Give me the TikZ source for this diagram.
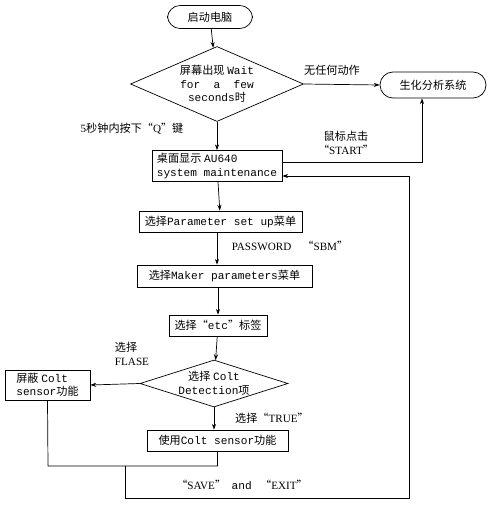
\documentclass[tikz,border=0pt]{standalone}
\usepackage{fontspec}
\setmainfont{Liberation Serif}
\setmonofont{Liberation Mono}
\newfontfamily\cjk{Noto Sans CJK SC}
\usepackage{tikz}
\usetikzlibrary{arrows.meta,shapes.geometric}
\newcommand{\zh}[1]{{\cjk #1}}

\begin{document}
\begin{tikzpicture}[x=0.03cm,y=-0.03cm,
  font=\fontsize{9.5}{11.5}\selectfont,
  >={Stealth[length=5pt,width=3.5pt]},
  every path/.style={line width=0.6pt},
  flow/.style={draw,inner sep=1pt},
  term/.style={flow,rounded corners=3.8mm},
  proc/.style={flow,rectangle,align=left},
  dec/.style={flow,diamond,inner sep=0pt,align=center},
  lbl/.style={align=left,inner sep=1pt}]
  \useasboundingbox (0,0) rectangle (496,506);
  % nodes
  \node[term,minimum width=2.55cm,minimum height=0.69cm] (start) at (210,17) {\zh{启动电脑}};
  \node[dec,aspect=2.3,minimum width=5.19cm,minimum height=2.25cm] (wait) at (217,84)
    {\zh{屏幕出现} \texttt{Wait}\\\texttt{for~~a~~few}\\\texttt{seconds}\zh{时}};
  \node[term,minimum width=3.18cm,minimum height=0.78cm,rounded corners=3.9mm] (sys) at (433,85) {\zh{生化分析系统}};
  \node[proc,minimum width=3.9cm,minimum height=0.93cm] (desk) at (217,166)
    {\zh{桌面显示} \texttt{AU640}\\\texttt{system maintenance}};
  \node[proc,minimum width=4.89cm,minimum height=0.63cm] (param) at (220.5,221.5)
    {\zh{选择}\texttt{Parameter set up}\zh{菜单}};
  \node[proc,minimum width=5.25cm,minimum height=0.66cm] (maker) at (224.5,276)
    {\zh{选择}\texttt{Maker parameters}\zh{菜单}};
  \node[proc,minimum width=2.94cm,minimum height=0.63cm] (etc) at (218,325.5)
    {\zh{选择“}\texttt{etc}\zh{”标签}};
  \node[dec,aspect=3.1,minimum width=4.44cm,minimum height=1.41cm] (colt) at (214,383.5)
    {\zh{选择} \texttt{Colt}\\\texttt{Detection}\zh{项}};
  \node[proc,minimum width=2.55cm,minimum height=0.9cm] (mask) at (47.5,385)
    {\zh{屏蔽} \texttt{Colt}\\\texttt{sensor}\zh{功能}};
  \node[proc,minimum width=4.23cm,minimum height=0.63cm] (use) at (217.5,440.5)
    {\zh{使用}\texttt{Colt sensor}\zh{功能}};
  % labels
  \node[lbl] (lnone) at (332,70) {\zh{无任何动作}};
  \node[lbl] (lq) at (132,129) {5\zh{秒钟内按下“}Q\zh{”键}};
  \node[lbl,align=center] (lstart) at (346,143) {\zh{鼠标点击}\\\zh{“}START\zh{”}};
  \node[lbl] (lpw) at (290,246) {PASSWORD\quad\zh{“}SBM\zh{”}};
  \node[lbl] (lfalse) at (132,354) {\zh{选择}\\FLASE};
  \node[lbl] (ltrue) at (272,418) {\zh{选择“}TRUE\zh{”}};
  \node[lbl] (lsave) at (242,485) {\zh{“}SAVE\zh{”}\ \ \texttt{and}\ \ \ \zh{“}EXIT\zh{”}};
  % connectors
  \coordinate (joinA) at (48,466);
  \coordinate (joinB) at (125,466);
  \coordinate (loopA) at (125,498);
  \coordinate (loopB) at (409,498);
  \draw[->] (start) -- (wait);
  \draw[->] (wait.east) -- (sys.west);
  \draw[->] (wait.south) -- (desk.north);
  \draw[->] ([yshift=0.1cm]desk.east) -| ([xshift=-0.33cm]sys.south);
  \draw[->] (desk) -- (param);
  \draw[->] (param.south -| desk.south) -- (maker.north -| desk.south);
  \draw[->] (maker.south -| etc.north) -- (etc.north);
  \draw[->] (etc) -- (colt);
  \draw[->] (colt.west) -- (mask.east);
  \draw[->] (colt.south) -- (use.north -| colt.south);
  \draw (mask.south) -- (joinA) -- (joinA -| use.south) -- (use.south);
  \draw[->] (joinB) -- (loopA) -- (loopB) |- ([yshift=-0.3cm]desk.east);
\end{tikzpicture}
\end{document}
